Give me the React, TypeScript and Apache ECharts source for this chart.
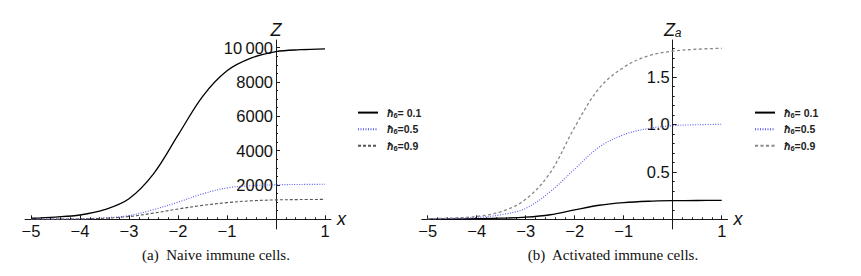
import React, { useEffect, useRef } from "react";
import * as echarts from "echarts";

// x grid of the sampled curves
const xs = [-5, -4.5, -4, -3.5, -3, -2.5, -2, -1.5, -1, -0.5, 0, 0.5, 1];

// (a) Naive immune cells, Z
const naiveH01 = [60, 130, 250, 560, 1200, 2650, 4900, 7150, 8650, 9400, 9770, 9880, 9930];
const naiveH05 = [5, 12, 30, 85, 220, 560, 1000, 1480, 1830, 1960, 2010, 2030, 2040];
const naiveH09 = [3, 8, 20, 60, 160, 360, 600, 810, 970, 1080, 1130, 1150, 1160];

// (b) Activated immune cells, Z_a
const actH01 = [0.002, 0.004, 0.007, 0.012, 0.022, 0.048, 0.1, 0.148, 0.176, 0.19, 0.196, 0.198, 0.199];
const actH05 = [0.005, 0.01, 0.02, 0.048, 0.115, 0.29, 0.53, 0.76, 0.89, 0.955, 0.985, 0.995, 1.0];
const actH09 = [0.006, 0.013, 0.03, 0.08, 0.21, 0.49, 0.97, 1.38, 1.6, 1.72, 1.77, 1.79, 1.8];

// ticks
const xMajorTicks = [-5, -4, -3, -2, -1, 0, 1];
const xTickLabels = [-5, -4, -3, -2, -1, 1];
const naiveYTickLabels = [2000, 4000, 6000, 8000, 10000];
const actYTickLabels = [0.5, 1.0, 1.5];
const legendValues = ["= 0.1", "=0.5", "=0.9"];
const captions = ["(a)  Naive immune cells.", "(b)  Activated immune cells."];

const range = (a: number, b: number, step: number) => {
  const out: number[] = [];
  const n = Math.round((b - a) / step);
  for (let i = 0; i <= n; i++) out.push(+(a + i * step).toFixed(6));
  return out;
};
const xMinorTicks = range(-5, 1, 0.2);
const naiveYMinor = range(0, 10500, 500);
const actYMinor = range(0, 1.8, 0.1);

const pairs = (ys: number[]) => xs.map((x, i) => [x, ys[i]]);
const minusFmt = (v: number) => (v < 0 ? "\u2212" + Math.abs(v) : String(v));

const AXIS_COLOR = "#1a1a1a";
const LABEL_FONT = "Liberation Sans, Arial, sans-serif";

const X_MIN = -5.12;
const X_MAX = 1.12;
const GRID_W = 305.8;
const GRID_H = 189;
const NAIVE_Y = [-565, 10446];
const ACT_Y = [-0.102, 1.887];
// shift the y axis onto x = 0
const Y_OFFSET = -(GRID_W * (0 - X_MIN)) / (X_MAX - X_MIN);
// shift the x axis onto y = 0
const xOffsetFor = (yr: number[]) => -(GRID_H * (0 - yr[0])) / (yr[1] - yr[0]);

export default function App() {
  const ref = useRef<HTMLDivElement>(null);
  useEffect(() => {
    if (!ref.current) return;
    const chart = echarts.init(ref.current, undefined, { renderer: "svg" });

    const mkX = (grid: number, yr: number[], major: boolean, name: string) => ({
      type: "value",
      gridIndex: grid,
      position: "bottom",
      offset: xOffsetFor(yr),
      min: X_MIN,
      max: X_MAX,
      name: major ? name : "",
      nameLocation: "end",
      nameGap: 6,
      nameTextStyle: {
        fontFamily: LABEL_FONT,
        fontStyle: "italic",
        fontSize: 18,
        color: "#111",
        verticalAlign: "middle",
      },
      axisLine: {
        show: major,
        onZero: false,
        lineStyle: { color: AXIS_COLOR, width: 1 },
      },
      axisTick: {
        show: true,
        inside: true,
        length: major ? 4 : 2,
        customValues: major ? xMajorTicks : xMinorTicks,
        lineStyle: { color: AXIS_COLOR, width: 1 },
      },
      axisLabel: {
        show: major,
        customValues: xTickLabels,
        margin: 3,
        fontFamily: LABEL_FONT,
        fontSize: 16.5,
        color: "#111",
        formatter: minusFmt,
      },
      splitLine: { show: false },
    });

    const mkY = (
      grid: number,
      major: boolean,
      yr: number[],
      labels: number[],
      minor: number[],
      fmt: (v: number) => string,
      name: string,
      rich?: any
    ) => ({
      type: "value",
      gridIndex: grid,
      position: "left",
      offset: Y_OFFSET,
      min: yr[0],
      max: yr[1],
      name: major ? name : "",
      nameLocation: "end",
      nameGap: 1,
      nameTextStyle: {
        fontFamily: LABEL_FONT,
        fontStyle: "italic",
        fontSize: 18,
        color: "#111",
        rich,
      },
      axisLine: {
        show: major,
        onZero: false,
        lineStyle: { color: AXIS_COLOR, width: 1 },
      },
      axisTick: {
        show: true,
        inside: true,
        length: major ? 4 : 2,
        customValues: major ? labels : minor,
        lineStyle: { color: AXIS_COLOR, width: 1 },
      },
      axisLabel: {
        show: major,
        customValues: labels,
        margin: 3,
        fontFamily: LABEL_FONT,
        fontSize: 16.5,
        color: "#111",
        formatter: fmt,
      },
      splitLine: { show: false },
    });

    const naiveFmt = (v: number) =>
      v >= 10000 ? String(Math.floor(v / 1000)) + "\u2009" + String(v % 1000).padStart(3, "0") : String(v);
    const actFmt = (v: number) => v.toFixed(1);

    const lineSeries = (
      name: string,
      data: number[],
      xi: number,
      yi: number,
      color: string,
      type: any,
      width: number
    ) => ({
      type: "line",
      name,
      xAxisIndex: xi,
      yAxisIndex: yi,
      data: pairs(data),
      smooth: 0.35,
      symbol: "none",
      showSymbol: false,
      lineStyle: { color, type, width },
      itemStyle: { color },
      z: 3,
    });

    const BLUE = "#5b5bf0";
    const legendRich = {
      h: { fontFamily: LABEL_FONT, fontSize: 10.5, fontWeight: "bold", fontStyle: "italic", color: "#222", lineHeight: 13 },
      s: { fontFamily: LABEL_FONT, fontSize: 7.5, fontWeight: "bold", color: "#222", verticalAlign: "bottom", lineHeight: 11 },
      t: { fontFamily: LABEL_FONT, fontSize: 10.5, fontWeight: "bold", color: "#222", lineHeight: 13 },
    };
    const legendFmt = (name: string) => {
      const idx = Number(name.slice(1)) - 1;
      return "{h|\u0127}{s|6}{t|" + legendValues[idx] + "}";
    };
    const mkLegend = (left: number, names: string[]) => ({
      orient: "vertical",
      left,
      top: 102,
      itemWidth: 20,
      itemHeight: 14,
      itemGap: 4.5,
      data: names,
      formatter: legendFmt,
      itemStyle: { opacity: 0 },
      textStyle: { rich: legendRich, padding: [0, 0, 0, 4] },
      selectedMode: false,
    });

    const gridBase = { top: 40, width: GRID_W, height: GRID_H, containLabel: false, outerBoundsMode: "none" };

    const option: any = {
      animation: false,
      backgroundColor: "#fff",
      grid: [
        { ...gridBase, left: 25.1 },
        { ...gridBase, left: 421.8 },
      ],
      xAxis: [
        mkX(0, NAIVE_Y, true, "x"),
        mkX(0, NAIVE_Y, false, ""),
        mkX(1, ACT_Y, true, "x"),
        mkX(1, ACT_Y, false, ""),
      ],
      yAxis: [
        mkY(0, true, NAIVE_Y, naiveYTickLabels, naiveYMinor, naiveFmt, "Z"),
        mkY(0, false, NAIVE_Y, naiveYTickLabels, naiveYMinor, naiveFmt, ""),
        mkY(1, true, ACT_Y, actYTickLabels, actYMinor, actFmt, "{z|Z}{a|a}", {
          z: { fontFamily: LABEL_FONT, fontStyle: "italic", fontSize: 18, color: "#111" },
          a: { fontFamily: LABEL_FONT, fontStyle: "italic", fontSize: 12, color: "#111", verticalAlign: "bottom", lineHeight: 12 },
        }),
        mkY(1, false, ACT_Y, actYTickLabels, actYMinor, actFmt, ""),
      ],
      legend: [mkLegend(352, ["a1", "a2", "a3"]), mkLegend(749, ["b1", "b2", "b3"])],
      series: [
        lineSeries("a1", naiveH01, 0, 0, "#000", "solid", 1.3),
        lineSeries("a2", naiveH05, 0, 0, BLUE, [1, 1.5], 1.1),
        lineSeries("a3", naiveH09, 0, 0, "#555", [3, 2], 1.1),
        lineSeries("b1", actH01, 2, 2, "#000", "solid", 1.3),
        lineSeries("b2", actH05, 2, 2, BLUE, [1, 1.5], 1.1),
        lineSeries("b3", actH09, 2, 2, "#888", [3, 2.5], 1.3),
      ],
      graphic: [
        {
          type: "text",
          x: 216,
          y: 255,
          style: {
            text: captions[0],
            fontFamily: "Liberation Serif, Times New Roman, serif",
            fontSize: 15,
            fill: "#111",
            textAlign: "center",
            textVerticalAlign: "middle",
          },
        },
        {
          type: "text",
          x: 613,
          y: 255,
          style: {
            text: captions[1],
            fontFamily: "Liberation Serif, Times New Roman, serif",
            fontSize: 15,
            fill: "#111",
            textAlign: "center",
            textVerticalAlign: "middle",
          },
        },
      ],
    };
    chart.setOption(option);
    return () => chart.dispose();
  }, []);

  return (
    <div
      ref={ref}
      style={{ position: "absolute", left: 0, top: 0, width: 861, height: 276, background: "#fff" }}
    />
  );
}
